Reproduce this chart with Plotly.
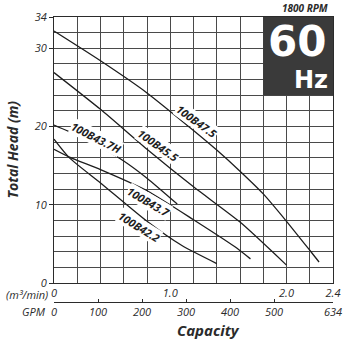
import plotly.graph_objects as go

# Pump performance curves, 1800 RPM / 60 Hz
# capacity in m3/min, total head in m
models = ["100B47.5", "100B45.5", "100B43.7H", "100B43.7", "100B42.2"]

q_475 = [0.0, 0.4, 0.8, 1.2, 1.4, 1.6, 1.8, 2.0, 2.2, 2.28]
h_475 = [32.2, 28.4, 24.3, 19.5, 17.0, 14.3, 11.4, 7.9, 4.2, 2.7]

q_455 = [0.0, 0.4, 0.8, 1.2, 1.6, 2.0]
h_455 = [26.9, 22.2, 17.1, 12.3, 7.8, 2.3]

q_437h = [0.0, 0.2, 0.4, 0.6, 0.8, 1.06]
h_437h = [20.2, 18.9, 17.4, 15.6, 13.4, 10.1]

q_437 = [0.0, 0.133, 0.4, 0.8, 1.2, 1.55, 1.69]
h_437 = [17.1, 16.1, 14.5, 11.8, 8.1, 4.7, 3.1]

q_422 = [0.0, 0.133, 0.4, 0.8, 1.1, 1.40]
h_422 = [18.4, 16.0, 12.8, 7.9, 4.8, 2.5]

curves_q = [q_475, q_455, q_437h, q_437, q_422]
curves_h = [h_475, h_455, h_437h, h_437, h_422]

# label placement (capacity, head, rotation in degrees)
label_q = [1.23, 0.90, 0.36, 0.81, 0.73]
label_h = [20.6, 17.6, 18.6, 10.4, 7.2]
label_angle = [36, 35, 27, 30, 32]

# axes
q_ticks = [0, 1.0, 2.0, 2.4]
q_ticktext = ["0", "1.0", "2.0", "2.4"]
gpm_ticks = [0, 100, 200, 300, 400, 500, 634]
head_ticks = [0, 10, 20, 30, 34]
Q_MAX, GPM_MAX, H_MAX = 2.4, 634, 34

INK = "#2b2b2b"
GRID = "#4a4a4a"
FONT = "Open Sans"

fig = go.Figure()

for q, h in zip(curves_q, curves_h):
    fig.add_trace(go.Scatter(
        x=q, y=h, mode="lines", line=dict(color="#1e1e1e", width=1.3, shape="spline", smoothing=0.6),
        showlegend=False, hoverinfo="skip"))

# carrier trace for the GPM scale
fig.add_trace(go.Scatter(x=[0, GPM_MAX], y=[None, None], xaxis="x2", yaxis="y",
                         mode="lines", showlegend=False, hoverinfo="skip"))

for name, lq, lh, ang in zip(models, label_q, label_h, label_angle):
    fig.add_annotation(x=lq, y=lh, text=name, showarrow=False, textangle=ang,
                       xanchor="center", yanchor="middle",
                       bgcolor="white", borderpad=0,
                       font=dict(family=FONT, size=11, color="#1e1e1e", weight="bold", style="italic"))

# frequency badge
fig.add_shape(type="rect", x0=1.8, x1=2.4, y0=24, y1=34, xref="x", yref="y",
              fillcolor="#3a3a3a", line=dict(width=0), layer="above")
fig.add_annotation(x=2.09, y=30.9, text="60", showarrow=False, xref="x", yref="y",
                   xanchor="center", yanchor="middle",
                   font=dict(family="DejaVu Sans", size=42, color="white", weight="bold"))
fig.add_annotation(x=2.37, y=26.0, text="Hz", showarrow=False, xref="x", yref="y",
                   xanchor="right", yanchor="middle",
                   font=dict(family="DejaVu Sans", size=24, color="white", weight="bold"))

# paper layout: plot area 54..342 px across, 15..283 px down; GPM scale at 302 px
PW, PH = 288, 287
def px(xp):
    return (xp - 54) / PW
def py(yp):
    return (302 - yp) / PH

def side_text(x, y, text, size, xanchor="center", angle=0, bold=False):
    fig.add_annotation(x=px(x), y=py(y), xref="paper", yref="paper",
                       xanchor=xanchor, yanchor="middle", textangle=angle,
                       text=text, showarrow=False,
                       font=dict(family=FONT, size=size, color=INK, style="italic",
                                 weight="bold" if bold else "normal"))

side_text(339, 6, "1800 RPM", 10, xanchor="right", bold=True)
side_text(11, 148, "Total Head (m)", 14, angle=-90, bold=True)
side_text(213, 330, "Capacity", 15, bold=True)
side_text(50, 294, "(m³/min)", 11, xanchor="right")
side_text(48, 312, "GPM", 11, xanchor="right")

tick_font = dict(family=FONT, size=11, color=INK, style="italic")

fig.update_layout(
    width=351, height=340,
    margin=dict(l=54, r=9, t=15, b=38),
    paper_bgcolor="white", plot_bgcolor="white",
    xaxis=dict(range=[0, Q_MAX], domain=[0, 1], anchor="y",
               tickvals=q_ticks, ticktext=q_ticktext, ticks="",
               showgrid=True, gridcolor=GRID, gridwidth=1,
               minor=dict(dtick=0.2, tick0=0, showgrid=True, gridcolor=GRID, gridwidth=1),
               showline=True, linecolor=INK, linewidth=1, mirror=True,
               zeroline=False, tickfont=tick_font),
    xaxis2=dict(range=[0, GPM_MAX], overlaying="x", anchor="free", position=0, side="bottom",
                tickvals=gpm_ticks, ticks="inside", ticklen=3, tickcolor=INK,
                showgrid=False, zeroline=False,
                showline=True, linecolor=INK, linewidth=1, tickfont=tick_font),
    yaxis=dict(range=[0, H_MAX], domain=[(302 - 283) / PH, 1], anchor="x",
               tickvals=head_ticks, ticks="outside", ticklen=4, tickcolor=INK,
               showgrid=True, gridcolor=GRID, gridwidth=1,
               minor=dict(dtick=2, tick0=0, showgrid=True, gridcolor=GRID, gridwidth=1),
               showline=True, linecolor=INK, linewidth=1, mirror=True,
               zeroline=False, tickfont=tick_font),
)

fig.write_html("out.html")
